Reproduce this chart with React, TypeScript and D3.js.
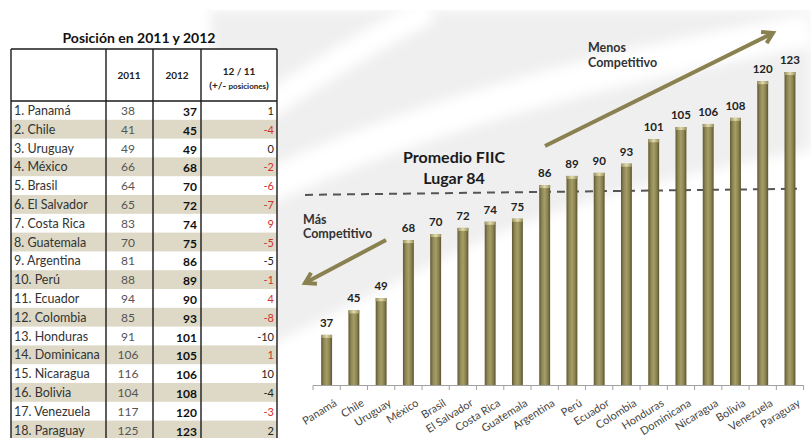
import React from "react";
import * as d3 from "d3";

const countries = ["Panamá","Chile","Uruguay","México","Brasil","El Salvador","Costa Rica","Guatemala","Argentina","Perú","Ecuador","Colombia","Honduras","Dominicana","Nicaragua","Bolivia","Venezuela","Paraguay"];
const tableNames = ["1. Panamá","2. Chile","3. Uruguay","4. México","5. Brasil","6. El Salvador","7. Costa Rica","8. Guatemala","9. Argentina","10. Perú","11. Ecuador","12. Colombia","13. Honduras","14. Dominicana","15. Nicaragua","16. Bolivia","17. Venezuela","18. Paraguay"];
const rank2011 = [38,41,49,66,64,65,83,70,81,88,94,85,91,106,116,104,117,125];
const rank2012 = [37,45,49,68,70,72,74,75,86,89,90,93,101,105,106,108,120,123];
const change = [1,-4,0,-2,-6,-7,9,-5,-5,-1,4,-8,-10,1,10,-4,-3,2];
const changeRed = [false,true,false,true,true,true,true,true,false,true,true,true,false,true,false,false,true,false];
const average = 84;

const FONT = "Lato, 'Open Sans', sans-serif";
const OLIVE = "#8a8150";

export default function App() {
  const W = 811, H = 438;
  const x = d3.scaleBand<string>().domain(countries).range([313, 803.6]).paddingInner(0.6).paddingOuter(0.3);
  const y = d3.scaleLinear().domain([20.6, 123]).range([385, 72]);
  const step = x.step();
  const bw = x.bandwidth();
  const cx = (c: string) => (x(c) as number) + bw / 2;

  const tL = 11, tR = 277, tTop = 49, tHead = 101, rowH = 18.8;
  const cols = [106, 153, 201];

  const arrow = (x1: number, y1: number, x2: number, y2: number) => {
    const a = Math.atan2(y2 - y1, x2 - x1);
    const L = 12, s = 0.55;
    const p1 = [x2 - L * Math.cos(a - s), y2 - L * Math.sin(a - s)];
    const p2 = [x2 - L * Math.cos(a + s), y2 - L * Math.sin(a + s)];
    return (
      <g stroke={OLIVE} strokeWidth={4} fill="none" strokeLinecap="butt" strokeLinejoin="miter">
        <line x1={x1} y1={y1} x2={x2 - 2 * Math.cos(a)} y2={y2 - 2 * Math.sin(a)} />
        <polyline points={`${p1[0]},${p1[1]} ${x2},${y2} ${p2[0]},${p2[1]}`} />
      </g>
    );
  };

  const ticks = d3.range(countries.length + 1).map(i => 313 + i * step);

  return (
    <svg width={W} height={H} style={{ position: "absolute", left: 0, top: 0, background: "#fff" }} fontFamily={FONT}>
      <defs>
        <linearGradient id="barg" x1="0" x2="1" y1="0" y2="0">
          <stop offset="0" stopColor="#5f5830" />
          <stop offset="0.25" stopColor="#8f8755" />
          <stop offset="0.5" stopColor="#a69e68" />
          <stop offset="0.75" stopColor="#8c8451" />
          <stop offset="1" stopColor="#5c552e" />
        </linearGradient>
        <linearGradient id="capg" x1="0" x2="1" y1="0" y2="0">
          <stop offset="0" stopColor="#9a925f" />
          <stop offset="0.5" stopColor="#e2dbad" />
          <stop offset="1" stopColor="#9a925f" />
        </linearGradient>
        <filter id="blur" x="-20%" y="-20%" width="140%" height="140%">
          <feGaussianBlur stdDeviation="6" />
        </filter>
      </defs>

      <g>
        <path d="M210,10 L811,10 L811,150 C700,170 560,200 440,260 C360,300 300,330 240,360 C225,250 215,120 210,10 Z" fill="#efefef" filter="url(#blur)" />
        <rect x={210} y={0} width={601} height={10} fill="#fff" />
        <path d="M250,118 C320,70 370,40 430,10" stroke="#fff" strokeWidth={26} fill="none" filter="url(#blur)" />
        <path d="M240,200 C380,130 560,75 811,30" stroke="#fff" strokeWidth={34} fill="none" filter="url(#blur)" />
      </g>

      <text x={139} y={43} textAnchor="middle" fontSize={14} fontWeight={700} fill="#111">Posición en 2011 y 2012</text>
      <rect x={tL} y={tTop} width={tR - tL} height={H - tTop + 5} fill="#fff" />
      {tableNames.map((n, i) => (
        i % 2 === 1 ? <rect key={"bg" + i} x={tL} y={tHead + i * rowH} width={tR - tL} height={rowH} fill="#ddd9c6" /> : null
      ))}
      {tableNames.map((n, i) => {
        const yy = tHead + i * rowH + rowH / 2 + 4.5;
        return (
          <g key={"r" + i}>
            <text x={14} y={yy} fontSize={12.5} fill="#333">{n}</text>
            <text x={128} y={yy} fontSize={12} fill="#555" textAnchor="middle">{rank2011[i]}</text>
            <text x={197} y={yy + 1} fontSize={12} fontWeight={700} fill="#111" textAnchor="end">{rank2012[i]}</text>
            <text x={274} y={yy} fontSize={11} fill={changeRed[i] ? "#d2302c" : "#222"} textAnchor="end">{change[i]}</text>
          </g>
        );
      })}
      <g stroke="#1a1a1a" strokeWidth={1.4} fill="none">
        <line x1={tL} x2={tR} y1={tTop} y2={tTop} />
        <line x1={tL} x2={tR} y1={tHead} y2={tHead} />
        <line x1={tL} x2={tL} y1={tTop} y2={H} />
        <line x1={tR} x2={tR} y1={tTop} y2={H} />
        {cols.map(c => <line key={c} x1={c} x2={c} y1={tTop} y2={H} />)}
      </g>
      <text x={129} y={79} fontSize={10} fontWeight={700} fill="#222" textAnchor="middle">2011</text>
      <text x={177} y={79} fontSize={10} fontWeight={700} fill="#222" textAnchor="middle">2012</text>
      <text x={239} y={75} fontSize={10} fontWeight={700} fill="#222" textAnchor="middle">12 / 11</text>
      <text x={239} y={89} fontSize={10} fontWeight={700} fill="#222" textAnchor="middle">(+/- <tspan fontSize={8}>posiciones</tspan>)</text>

      <line
        x1={305} x2={797}
        y1={y(average - 1.2)} y2={y(average + 0.8)}
        stroke="#555" strokeWidth={2} strokeDasharray="8,6" />

      {countries.map((c, i) => {
        const top = y(rank2012[i]);
        return (
          <g key={c}>
            <rect x={x(c)} y={top} width={bw} height={385 - top} fill="url(#barg)" />
            <rect x={x(c)} y={top} width={bw} height={3} fill="url(#capg)" />
            <text x={cx(c)} y={top - 8} textAnchor="middle" fontSize={11.5} fontWeight={700} fill="#222">{rank2012[i]}</text>
          </g>
        );
      })}

      <g stroke="#a0a0a0" strokeWidth={1}>
        <line x1={313} x2={803.6} y1={385.5} y2={385.5} />
        {ticks.map((t, i) => <line key={i} x1={t} x2={t} y1={385.5} y2={390} />)}
      </g>
      {countries.map(c => (
        <text key={"l" + c} transform={`translate(${cx(c) + 11},${405}) rotate(-32)`} textAnchor="end" fontSize={11} fill="#444">{c}</text>
      ))}

      <text x={454} y={163} textAnchor="middle" fontSize={16} fontWeight={700} fill="#1a1a1a">Promedio FIIC</text>
      <text x={454} y={184} textAnchor="middle" fontSize={16} fontWeight={700} fill="#1a1a1a">Lugar {average}</text>

      <text x={303} y={224} fontSize={12.5} fontWeight={700} fill="#333">Más</text>
      <text x={303} y={238} fontSize={12.5} fontWeight={700} fill="#333">Competitivo</text>
      {arrow(386, 240, 305, 283)}

      <text x={588} y={52} fontSize={12.5} fontWeight={700} fill="#333">Menos</text>
      <text x={588} y={67} fontSize={12.5} fontWeight={700} fill="#333">Competitivo</text>
      {arrow(545, 146, 773, 33)}
    </svg>
  );
}
